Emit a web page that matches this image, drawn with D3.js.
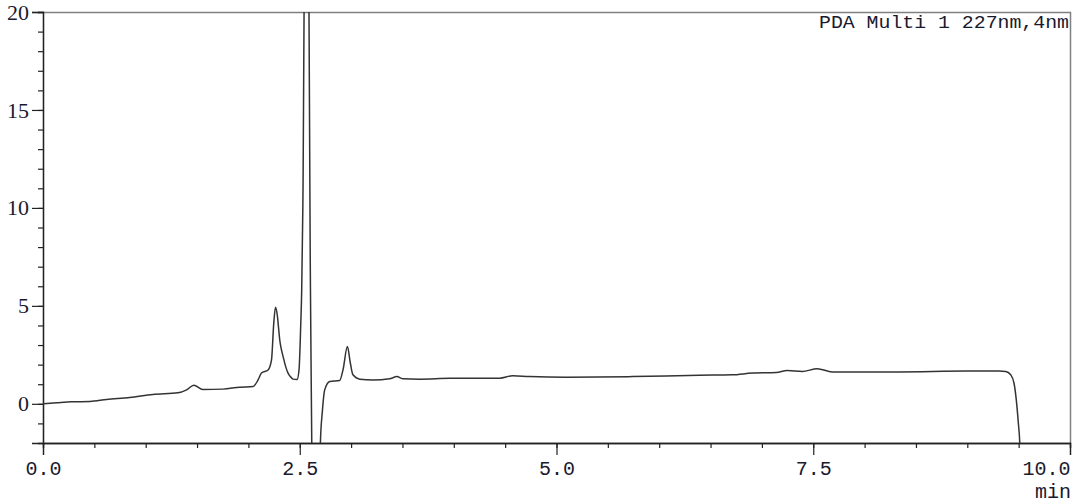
<!DOCTYPE html>
<html>
<head>
<meta charset="utf-8">
<script src="https://cdn.jsdelivr.net/npm/d3@7"></script>
<style>
  html, body { margin: 0; padding: 0; background: #fff; }
  svg { display: block; }
  .ylab text { font-family: "Times New Roman", "Liberation Serif", "DejaVu Serif", serif !important; }
</style>
</head>
<body>
<svg id="chart"></svg>
<script>
// retention time (min) and absorbance (mAU)
const timeMin = [
  0.00, 0.133, 0.279, 0.457, 0.620, 0.846, 1.070, 1.313, 1.398, 1.469,
  1.556, 1.751, 1.916, 2.046, 2.094, 2.127, 2.192, 2.225, 2.247, 2.264,
  2.283, 2.295, 2.305, 2.320, 2.338, 2.360, 2.386, 2.410, 2.435, 2.474,
  2.493, 2.510, 2.519, 2.530,
  2.542, 2.552, 2.565, 2.578, 2.590, 2.604, 2.617, 2.635, 2.665, 2.692,
  2.701, 2.720, 2.743, 2.792, 2.889, 2.921, 2.964, 2.993, 3.018, 3.084,
  3.213, 3.375, 3.446, 3.502, 3.667, 3.959, 4.446, 4.572, 4.737, 5.097,
  5.739, 6.391, 6.712, 6.907, 7.140, 7.247, 7.393, 7.539, 7.685, 8.337,
  8.988, 9.309, 9.374, 9.423, 9.455, 9.477, 9.497, 9.511, 9.530
];
const absorb = [
  0.00, 0.05, 0.10, 0.12, 0.22, 0.32, 0.48, 0.56, 0.71, 0.95,
  0.73, 0.75, 0.85, 0.88, 1.22, 1.57, 1.73, 2.24, 4.12, 4.93,
  4.45, 3.80, 3.27, 2.80, 2.41, 1.95, 1.57, 1.38, 1.26, 1.24,
  1.73, 4.10, 5.80, 10.0,
  20.0, 45.0, 70.0, 45.0, 20.0, 6.0, -2.0, -15.0, -15.0, -4.0,
  -2.0, -0.40, 0.71, 1.14, 1.19, 1.73, 2.92, 2.07, 1.48, 1.26,
  1.22, 1.28, 1.39, 1.28, 1.26, 1.30, 1.31, 1.43, 1.39, 1.36,
  1.39, 1.46, 1.48, 1.57, 1.60, 1.70, 1.65, 1.79, 1.63, 1.63,
  1.67, 1.67, 1.65, 1.48, 1.05, 0.20, -0.98, -2.0, -6.0
];
const xMajor = [0, 2.5, 5, 7.5, 10];
const xLabels = ['0.0', '2.5', '5.0', '7.5', '10.0'];
const yMajor = [0, 5, 10, 15, 20];
const titleText = 'PDA Multi 1 227nm,4nm';
const unitText = 'min';

const W = 1080, H = 504;
const margin = { left: 43, right: 1070, top: 12, bottom: 443 };

const svg = d3.select('#chart').attr('width', W).attr('height', H);

const x = d3.scaleLinear().domain([0, 10]).range([margin.left, margin.right]);
const y = d3.scaleLinear().domain([-2, 20]).range([margin.bottom, margin.top]);

svg.append('defs').append('clipPath').attr('id', 'plot')
  .append('rect')
  .attr('x', margin.left).attr('y', margin.top)
  .attr('width', margin.right - margin.left).attr('height', margin.bottom - margin.top);

// frame: top and right in grey
svg.append('line')
  .attr('x1', margin.left).attr('x2', margin.right + 1)
  .attr('y1', margin.top + 0.5).attr('y2', margin.top + 0.5)
  .attr('stroke', '#808080').attr('stroke-width', 1.5);
svg.append('line')
  .attr('x1', margin.right + 0.5).attr('x2', margin.right + 0.5)
  .attr('y1', margin.top).attr('y2', margin.bottom)
  .attr('stroke', '#808080').attr('stroke-width', 1.5);

// X axis
const xMinorAxis = svg.append('g')
  .attr('transform', `translate(0,${margin.bottom})`)
  .call(d3.axisBottom(x).tickValues(d3.range(0, 10.01, 0.5)).tickSize(5).tickFormat(''));
const xMajorAxis = svg.append('g')
  .attr('transform', `translate(0,${margin.bottom})`)
  .call(d3.axisBottom(x).tickValues(xMajor).tickSize(12)
    .tickFormat((d, i) => xLabels[i]));
[xMinorAxis, xMajorAxis].forEach(g => {
  g.select('.domain').attr('stroke', '#222').attr('stroke-width', 1.3);
  g.selectAll('line').attr('stroke', '#222').attr('stroke-width', 1.2);
});
xMajorAxis.selectAll('text')
  .attr('y', 32).attr('dy', 0)
  .style('font-family', '"Liberation Mono", monospace')
  .style('font-size', '20px')
  .attr('fill', '#1a1a2e')
  .attr('text-anchor', (d, i) => i === xMajor.length - 1 ? 'end' : 'middle');

svg.append('text')
  .attr('x', margin.right + 1).attr('y', 498)
  .attr('text-anchor', 'end')
  .style('font-family', '"Liberation Mono", monospace')
  .style('font-size', '20px')
  .attr('fill', '#1a1a2e')
  .text(unitText);

// Y axis
const yMinorAxis = svg.append('g')
  .attr('transform', `translate(${margin.left},0)`)
  .call(d3.axisLeft(y).tickValues(d3.range(-1, 20.01, 1)).tickSize(5).tickFormat(''));
const yMajorAxis = svg.append('g')
  .attr('class', 'ylab')
  .attr('transform', `translate(${margin.left},0)`)
  .call(d3.axisLeft(y).tickValues(yMajor).tickSize(11).tickPadding(3));
[yMinorAxis, yMajorAxis].forEach(g => {
  g.select('.domain').attr('stroke', '#222').attr('stroke-width', 1.3);
  g.selectAll('line').attr('stroke', '#222').attr('stroke-width', 1.2);
});
yMajorAxis.attr('font-family', 'Times New Roman').attr('font-size', 22);
yMajorAxis.selectAll('text')
  .style('font-size', '22px')
  .attr('fill', '#1a1a2e');

// title at top right
svg.append('text')
  .attr('x', margin.right - 1).attr('y', 28)
  .attr('text-anchor', 'end')
  .attr('textLength', 250)
  .attr('lengthAdjust', 'spacingAndGlyphs')
  .style('font-family', '"Liberation Mono", monospace')
  .style('font-size', '19px')
  .attr('fill', '#1a1a2e')
  .text(titleText);

// chromatogram trace
const data = timeMin.map((t, i) => ({ t, v: absorb[i] }));
const line = d3.line()
  .x(d => x(d.t))
  .y(d => y(d.v))
  .curve(d3.curveMonotoneX);

svg.append('path')
  .datum(data)
  .attr('clip-path', 'url(#plot)')
  .attr('fill', 'none')
  .attr('stroke', '#333')
  .attr('stroke-width', 1.5)
  .attr('d', line);
</script>
</body>
</html>
